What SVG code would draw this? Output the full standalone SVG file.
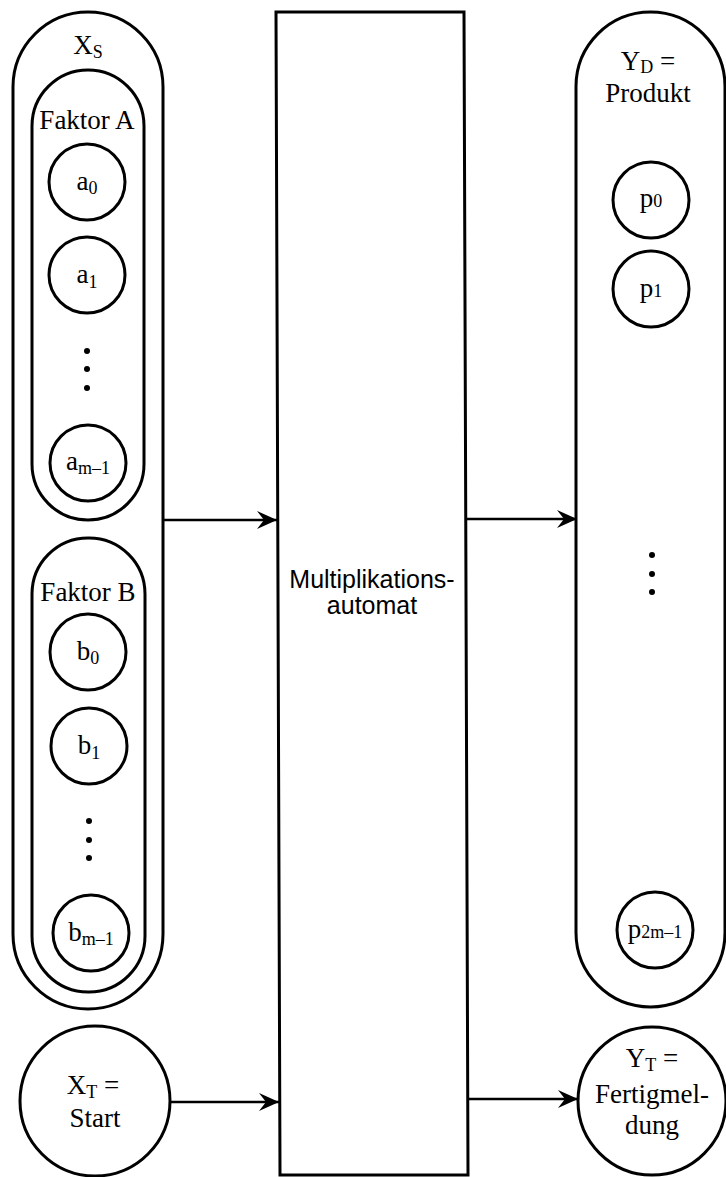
<svg xmlns="http://www.w3.org/2000/svg" width="726" height="1177" viewBox="0 0 726 1177">
<style>
.s{fill:none;stroke:#000;stroke-width:3}
.t{font-family:"Liberation Serif","Times New Roman",serif;font-size:27px;fill:#000;text-anchor:middle}
.ct{font-family:"Liberation Serif","Times New Roman",serif;font-size:27px;fill:#000;text-anchor:middle}
.sub{font-size:18px}
.sans{font-family:"Liberation Sans",Arial,sans-serif;font-size:25px;fill:#000;text-anchor:middle}
.dot{fill:#000}
</style>
<defs>
<marker id="ah" markerWidth="22" markerHeight="20" refX="20" refY="9" orient="auto" markerUnits="userSpaceOnUse">
<path d="M0,0 L20,9 L0,18 L7,9 Z" fill="#000"/>
</marker>
</defs>
<rect width="726" height="1177" fill="#fff"/>

<g id="xs">
<rect class="s" x="13" y="12" width="150" height="997" rx="75"/>
<text class="t" x="88" y="54">X<tspan class="sub" dy="4">S</tspan></text>
</g>

<g id="faktorA">
<rect class="s" x="32" y="70" width="112" height="450" rx="56"/>
<text class="t" x="87" y="129">Faktor A</text>
</g>
<g id="a0"><circle class="s" cx="87" cy="182" r="38"/><text class="ct" x="87" y="190">a<tspan class="sub" dy="4">0</tspan></text></g>
<g id="a1"><circle class="s" cx="87" cy="275" r="38"/><text class="ct" x="87" y="283">a<tspan class="sub" dy="5">1</tspan></text></g>
<g id="a-dots"><circle class="dot" cx="87" cy="351" r="3"/><circle class="dot" cx="87" cy="369" r="3"/><circle class="dot" cx="87" cy="388" r="3"/></g>
<g id="am1"><circle class="s" cx="88" cy="463" r="38"/><text class="ct" x="88" y="470">a<tspan class="sub" dy="4">m–1</tspan></text></g>

<g id="faktorB">
<rect class="s" x="32" y="538" width="113" height="454" rx="56"/>
<text class="t" x="88" y="601">Faktor B</text>
</g>
<g id="b0"><circle class="s" cx="88" cy="652" r="38"/><text class="ct" x="88" y="660">b<tspan class="sub" dy="4">0</tspan></text></g>
<g id="b1"><circle class="s" cx="89" cy="746" r="38"/><text class="ct" x="89" y="754">b<tspan class="sub" dy="5">1</tspan></text></g>
<g id="b-dots"><circle class="dot" cx="89" cy="821" r="3"/><circle class="dot" cx="89" cy="840" r="3"/><circle class="dot" cx="89" cy="858" r="3"/></g>
<g id="bm1"><circle class="s" cx="91" cy="933" r="38"/><text class="ct" x="91" y="941">b<tspan class="sub" dy="4">m–1</tspan></text></g>

<g id="xt">
<circle class="s" cx="95" cy="1101" r="75"/>
<text class="t" x="93" y="1094">X<tspan class="sub" dy="4">T</tspan><tspan dy="-4"> =</tspan></text>
<text class="t" x="95" y="1127">Start</text>
</g>

<g id="automat">
<path class="s" d="M276,12 L464,12 L468,1175 L280,1175 Z"/>
<text class="sans" x="372" y="588">Multiplikations-</text>
<text class="sans" x="372" y="614">automat</text>
</g>

<g id="yd">
<rect class="s" x="576" y="12" width="149" height="995" rx="74.5"/>
<text class="t" x="648" y="70">Y<tspan class="sub" dy="3">D</tspan><tspan dy="-3"> =</tspan></text>
<text class="t" x="648" y="102">Produkt</text>
</g>
<g id="p0"><circle class="s" cx="651" cy="200" r="38"/><text class="ct" x="651" y="207">p<tspan class="sub">0</tspan></text></g>
<g id="p1"><circle class="s" cx="651" cy="289" r="38"/><text class="ct" x="651" y="297">p<tspan class="sub">1</tspan></text></g>
<g id="p-dots"><circle class="dot" cx="652" cy="555" r="3"/><circle class="dot" cx="652" cy="574" r="3"/><circle class="dot" cx="652" cy="592" r="3"/></g>
<g id="p2m1"><circle class="s" cx="655" cy="930" r="38"/><text class="ct" x="655" y="938">p<tspan class="sub">2m–1</tspan></text></g>

<g id="yt">
<circle class="s" cx="652" cy="1101" r="74"/>
<text class="t" x="652" y="1067">Y<tspan class="sub" dy="4">T</tspan><tspan dy="-4"> =</tspan></text>
<text class="t" x="652" y="1103">Fertigmel-</text>
<text class="t" x="652" y="1134">dung</text>
</g>

<g id="connectors" stroke="#000" stroke-width="2.5" fill="none">
<line x1="163" y1="520" x2="277" y2="520" marker-end="url(#ah)"/>
<line x1="465" y1="519" x2="577" y2="519" marker-end="url(#ah)"/>
<line x1="170" y1="1102" x2="279" y2="1102" marker-end="url(#ah)"/>
<line x1="467" y1="1099" x2="578" y2="1099" marker-end="url(#ah)"/>
</g>
</svg>
